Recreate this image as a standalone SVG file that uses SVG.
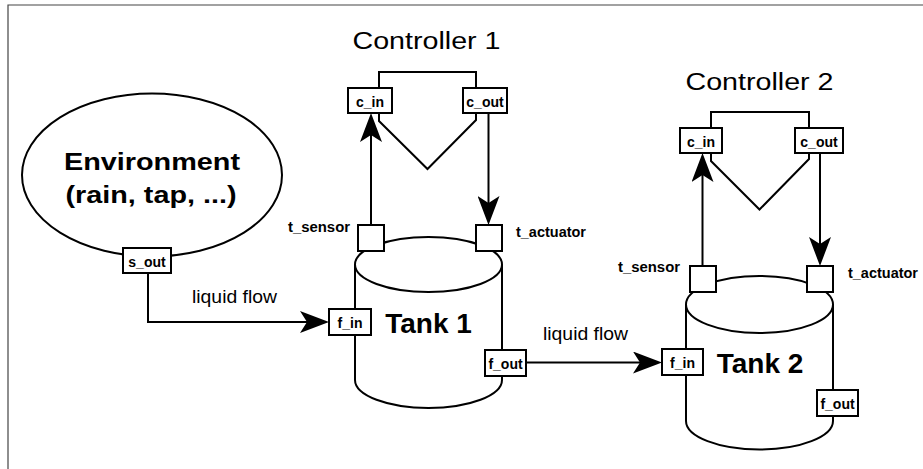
<svg xmlns="http://www.w3.org/2000/svg" width="923" height="469" viewBox="0 0 923 469">
<style>
.ln{fill:none;stroke:#000;stroke-width:2}
.box{fill:#fff;stroke:#000;stroke-width:2}
.t{font-family:"Liberation Sans",Arial,sans-serif;fill:#000}
.lbl{font-size:14px;font-weight:bold;text-anchor:middle}
.side{font-size:14px;font-weight:bold}
.big{font-size:28px;font-weight:bold;text-anchor:middle}
.ctl{font-size:23px;text-anchor:middle}
.flow{font-size:19px}
</style>
<defs>
<marker id="ah" markerUnits="userSpaceOnUse" viewBox="0 0 29 22" markerWidth="29" markerHeight="22" refX="7" refY="11" orient="auto">
<path d="M0,0 L29,11 L0,22 L7,11 Z" fill="#000"/>
</marker>
</defs>
<rect width="923" height="469" fill="#fff"/>
<path d="M8,469 V5 H923" fill="none" stroke="#444" stroke-width="1.2"/>

<g id="environment">
<ellipse cx="152" cy="175" rx="130" ry="81.5" class="ln"/>
<text class="t" x="152" y="169.5" font-size="24" font-weight="bold" text-anchor="middle" textLength="176" lengthAdjust="spacingAndGlyphs">Environment</text>
<text class="t" x="151" y="203" font-size="24" font-weight="bold" text-anchor="middle" textLength="171" lengthAdjust="spacingAndGlyphs">(rain, tap, ...)</text>
<rect class="box" x="123" y="248" width="48" height="25"/>
<text class="t lbl" x="147" y="266.5">s_out</text>
</g>

<g id="controller1">
<path class="ln" d="M379,88 V72 H476 V88"/>
<path class="ln" d="M379,113 V121 L427.5,169 L476,120 V113"/>
<rect class="box" x="348" y="88" width="44" height="25"/>
<text class="t lbl" x="370" y="106.5">c_in</text>
<rect class="box" x="463" y="88" width="44" height="25"/>
<text class="t lbl" x="485" y="106.5">c_out</text>
<text class="t ctl" x="426.5" y="49" textLength="148" lengthAdjust="spacingAndGlyphs">Controller 1</text>
</g>

<g id="controller2">
<path class="ln" d="M711,128 V112 H809 V128"/>
<path class="ln" d="M711,153 V161 L759.5,209.5 L809,159 V153"/>
<rect class="box" x="680" y="128" width="42" height="25"/>
<text class="t lbl" x="701" y="146.5">c_in</text>
<rect class="box" x="795" y="128" width="48" height="25"/>
<text class="t lbl" x="819" y="146.5">c_out</text>
<text class="t ctl" x="759.5" y="90" textLength="148" lengthAdjust="spacingAndGlyphs">Controller 2</text>
</g>

<g id="tank1">
<path class="box" d="M355,264.5 V380 A73.5,28 0 0 0 502,380 V264.5"/>
<ellipse class="box" cx="428.5" cy="264.5" rx="73.5" ry="27.5"/>
<text class="t big" x="428.5" y="333">Tank 1</text>
<rect class="box" x="358" y="225" width="26" height="26"/>
<rect class="box" x="476" y="225" width="26" height="26"/>
<text class="t side" x="350" y="232" text-anchor="end" textLength="62" lengthAdjust="spacingAndGlyphs">t_sensor</text>
<text class="t side" x="516" y="237" textLength="70" lengthAdjust="spacingAndGlyphs">t_actuator</text>
<rect class="box" x="329" y="309" width="42" height="26"/>
<text class="t lbl" x="350" y="327.5">f_in</text>
<rect class="box" x="485" y="350" width="41" height="26"/>
<text class="t lbl" x="505.5" y="368.5">f_out</text>
</g>

<g id="tank2">
<path class="box" d="M686,304.5 V421 A73.5,28.5 0 0 0 833,421 V304.5"/>
<ellipse class="box" cx="759.5" cy="304.5" rx="73.5" ry="28.5"/>
<text class="t big" x="760" y="373">Tank 2</text>
<rect class="box" x="690" y="266" width="26" height="26"/>
<rect class="box" x="807" y="266" width="26" height="26"/>
<text class="t side" x="680" y="271.5" text-anchor="end" textLength="62" lengthAdjust="spacingAndGlyphs">t_sensor</text>
<text class="t side" x="848" y="278" textLength="70" lengthAdjust="spacingAndGlyphs">t_actuator</text>
<rect class="box" x="662" y="349" width="41" height="26"/>
<text class="t lbl" x="682.5" y="367.5">f_in</text>
<rect class="box" x="817" y="390" width="41" height="26"/>
<text class="t lbl" x="837.5" y="408.5">f_out</text>
</g>

<g id="connectors">
<path class="ln" d="M148,273 V322 H307" marker-end="url(#ah)"/>
<path class="ln" d="M526,362.5 H640" marker-end="url(#ah)"/>
<path class="ln" d="M371,225 V135" marker-end="url(#ah)"/>
<path class="ln" d="M488.5,113 V203" marker-end="url(#ah)"/>
<path class="ln" d="M702.5,266 V175" marker-end="url(#ah)"/>
<path class="ln" d="M820,153 V244" marker-end="url(#ah)"/>
<text class="t flow" x="192" y="303" textLength="85" lengthAdjust="spacingAndGlyphs">liquid flow</text>
<text class="t flow" x="543" y="340" textLength="85" lengthAdjust="spacingAndGlyphs">liquid flow</text>
</g>
</svg>
